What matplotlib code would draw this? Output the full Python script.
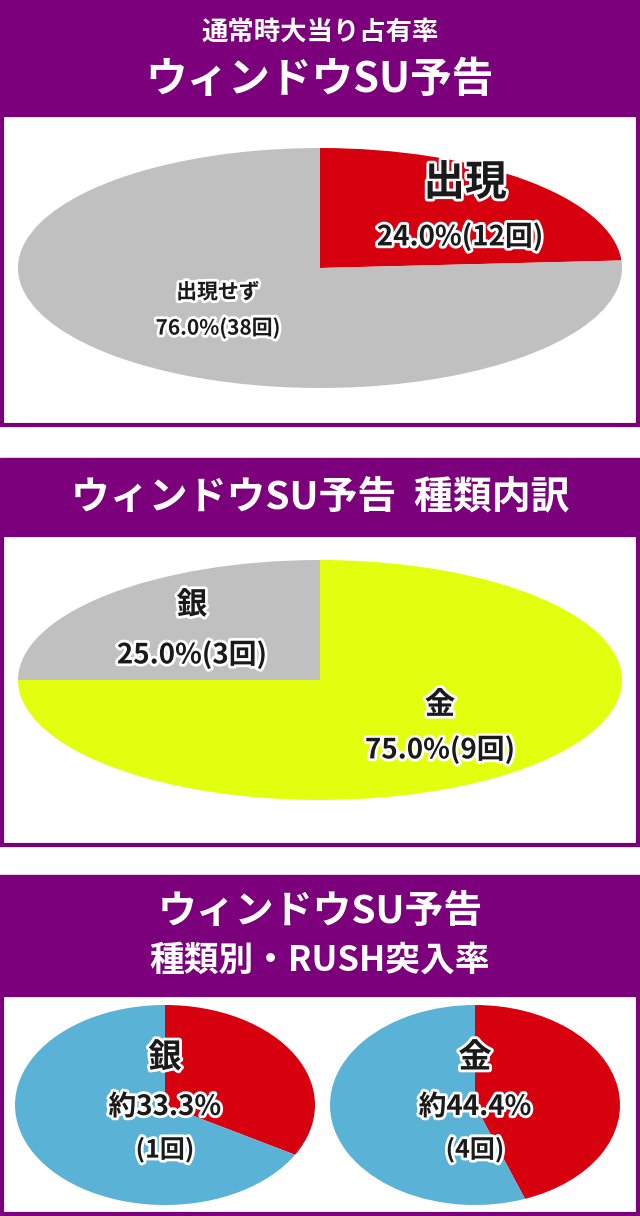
import matplotlib
matplotlib.use("Agg")
import matplotlib.pyplot as plt
import matplotlib.patheffects as pe
from matplotlib.patches import Rectangle

plt.rcParams['font.family'] = ['Noto Sans CJK JP', 'DejaVu Sans']

W, H = 640, 1216
PURPLE = '#7c007c'

p1_labels = ['出現', '出現せず']
p1_values = [24.0, 76.0]
p1_counts = [12, 38]
p2_labels = ['金', '銀']
p2_values = [75.0, 25.0]
p2_counts = [9, 3]
rush_labels = ['銀', '金']
rush_values = [33.3, 44.4]
rush_counts = [1, 4]

fig = plt.figure(figsize=(W/100, H/100), dpi=100)
bg = fig.add_axes([0, 0, 1, 1])
bg.set_xlim(0, W); bg.set_ylim(H, 0); bg.axis('off')

def panel(y0, y1, y2):
    bg.add_patch(Rectangle((0, y0), W, y1-y0, color=PURPLE))
    bg.add_patch(Rectangle((2, y1), W-4, y2-y1, facecolor='white', edgecolor=PURPLE, lw=3))

panel(0, 115, 425)
panel(458, 535, 845)
panel(875, 995, 1214)

def wt(x, y, s, size):
    bg.text(x, y, s, color='white', fontsize=size, fontweight='bold', ha='center', va='center')

wt(320, 32, '通常時大当り占有率', 19)
wt(320, 80, 'ウィンドウSU予告', 30)
wt(320, 497, 'ウィンドウSU予告  種類内訳', 28)
wt(320, 912, 'ウィンドウSU予告', 28)
wt(320, 960, '種類別・RUSH突入率', 25)

def pie_axes(cx, cy, w, h):
    return fig.add_axes([(cx-w/2)/W, 1-(cy+h/2)/H, w/W, h/H])

def draw(ax, vals, cols):
    ax.pie(vals, colors=cols, startangle=90, counterclock=False, radius=1,
           wedgeprops=dict(linewidth=0))
    ax.set_aspect('auto'); ax.set_xlim(-1, 1); ax.set_ylim(-1, 1)

ax1 = pie_axes(320, 268, 604, 240)
draw(ax1, p1_values, ['#d7000f', '#c0c0c0'])
ax2 = pie_axes(320, 680, 604, 240)
draw(ax2, p2_values, ['#e3ff10', '#c0c0c0'])
rush_cx = [165, 475]
rush_w = [300, 290]
for cx, w, v in zip(rush_cx, rush_w, rush_values):
    ax = pie_axes(cx, 1105, w, 200)
    draw(ax, [v, 100-v], ['#d7000f', '#5ab2d6'])

top = fig.add_axes([0, 0, 1, 1])
top.set_xlim(0, W); top.set_ylim(H, 0); top.axis('off')
top.patch.set_alpha(0)
stroke = [pe.withStroke(linewidth=4, foreground='white')]
def lab(x, y, s, size):
    top.text(x, y, s, color='#1a1a1a', fontsize=size, fontweight='bold', ha='center',
             va='center', path_effects=stroke)

lab(465, 183, p1_labels[0], 30)
lab(460, 237, f'{p1_values[0]:.1f}%({p1_counts[0]}回)', 20)
lab(218, 292, p1_labels[1], 15)
lab(218, 328, f'{p1_values[1]:.1f}%({p1_counts[1]}回)', 15)

lab(192, 605, p2_labels[1], 22)
lab(192, 655, f'{p2_values[1]:.1f}%({p2_counts[1]}回)', 20)
lab(440, 705, p2_labels[0], 22)
lab(440, 750, f'{p2_values[0]:.1f}%({p2_counts[0]}回)', 20)

for cx, v, l, c in zip(rush_cx, rush_values, rush_labels, rush_counts):
    lab(cx, 1058, l, 24)
    lab(cx, 1107, f'約{v:.1f}%', 20)
    lab(cx, 1150, f'({c}回)', 18)

fig.savefig('out.png', dpi=100)
